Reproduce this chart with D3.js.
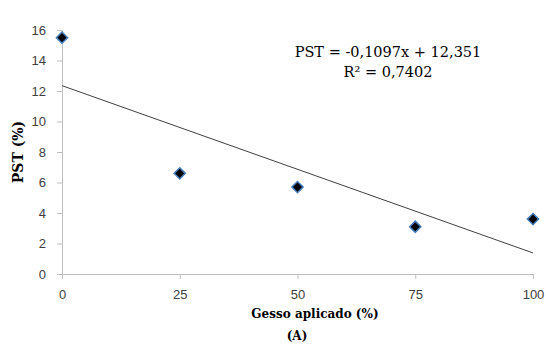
<!DOCTYPE html>
<html>
<head>
<meta charset="utf-8">
<script src="https://cdn.jsdelivr.net/npm/d3@7"></script>
<style>
  body { margin: 0; background: #fff; }
  .tick text { font-family: "Liberation Sans", Arial, sans-serif; font-size: 13px; fill: #404040; }
  .ttl { font-family: "DejaVu Serif", serif; font-weight: bold; font-size: 12px; fill: #000; }
  .eq { font-family: "DejaVu Serif", serif; font-size: 14.5px; fill: #000; }
</style>
</head>
<body>
<div id="chart"></div>
<script>
const doses = [0, 25, 50, 75, 100];
const pst = [15.5, 6.6, 5.7, 3.1, 3.6];
const xTicks = [0, 25, 50, 75, 100];
const yTicks = [0, 2, 4, 6, 8, 10, 12, 14, 16];
const slope = -0.1097, intercept = 12.351;
const eqLines = ["PST = -0,1097x + 12,351", "R² = 0,7402"];

const width = 546, height = 350;
const margin = { left: 62, right: 13, top: 30, bottom: 76 };

const svg = d3.select('#chart').append('svg')
  .attr('width', width)
  .attr('height', height);

const x = d3.scaleLinear().domain([0, 100]).range([margin.left, width - margin.right]);
const y = d3.scaleLinear().domain([0, 16]).range([height - margin.bottom, margin.top]);

// axes
const xAxis = svg.append('g')
  .attr('transform', `translate(0,${y(0)})`)
  .call(d3.axisBottom(x).tickValues(xTicks).tickSize(5).tickPadding(11));
const yAxis = svg.append('g')
  .attr('transform', `translate(${x(0)},0)`)
  .call(d3.axisLeft(y).tickValues(yTicks).tickSize(5).tickPadding(11));
[xAxis, yAxis].forEach(g => {
  g.select('.domain').attr('stroke', '#bfbfbf');
  g.selectAll('.tick line').attr('stroke', '#bfbfbf');
});

// trend line
svg.append('line')
  .attr('x1', x(0)).attr('y1', y(intercept))
  .attr('x2', x(100)).attr('y2', y(intercept + slope * 100))
  .attr('stroke', '#404040')
  .attr('stroke-width', 1);

// points
const diamond = d3.symbol().type(d3.symbolDiamond2).size(80);
svg.append('g').selectAll('path')
  .data(doses)
  .enter().append('path')
  .attr('d', diamond)
  .attr('transform', (d, i) => `translate(${x(d)},${y(pst[i])})`)
  .attr('fill', '#000')
  .attr('stroke', '#4a7ebb')
  .attr('stroke-width', 1.5);

// equation
svg.append('text').attr('class', 'eq')
  .attr('x', 388).attr('y', 57).attr('text-anchor', 'middle').text(eqLines[0]);
svg.append('text').attr('class', 'eq')
  .attr('x', 388).attr('y', 77).attr('text-anchor', 'middle').text(eqLines[1]);

// axis titles
svg.append('text').attr('class', 'ttl')
  .attr('x', 315).attr('y', 318).attr('text-anchor', 'middle').text('Gesso aplicado (%)');
svg.append('text').attr('class', 'ttl')
  .attr('x', 297).attr('y', 340).attr('text-anchor', 'middle').text('(A)');
svg.append('text').attr('class', 'ttl')
  .style('font-size', '14px')
  .attr('transform', `translate(23,${(y(0) + y(16)) / 2}) rotate(-90)`)
  .attr('text-anchor', 'middle').text('PST (%)');
</script>
</body>
</html>
